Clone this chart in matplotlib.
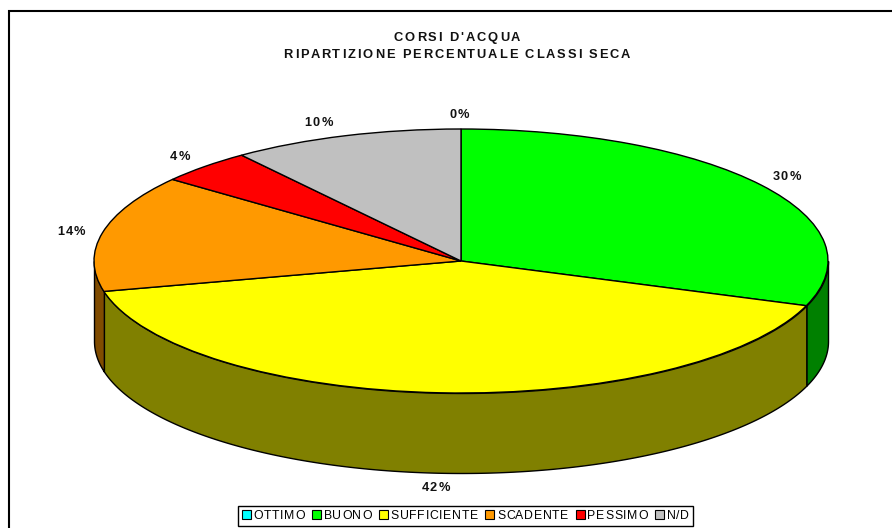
import types
import numpy as np
import matplotlib
matplotlib.use("Agg")
import matplotlib.pyplot as plt
from matplotlib.lines import Line2D
from matplotlib.transforms import Bbox

categories = ["OTTIMO", "BUONO", "SUFFICIENTE", "SCADENTE", "PESSIMO", "N/D"]
values = [0.0, 30.5, 40.8, 14.3, 4.2, 10.2]
value_labels = ["0%", "30%", "42%", "14%", "4%", "10%"]
colors = ["#00FFFF", "#00FF00", "#FFFF00", "#FF9900", "#FF0000", "#C0C0C0"]
wall_colors = ["#008080", "#008000", "#808000", "#804C00", "#800000", "#606060"]
title_lines = "CORSI D'ACQUA\nRIPARTIZIONE PERCENTUALE CLASSI SECA"

W, H = 892, 528
CX, CY, RX, RY, DEPTH = 461, 261, 367, 132, 80
plt.rcParams["font.family"] = ["Liberation Sans", "DejaVu Sans"]


def track(t, spacing, line_step=0):
    """Give a Text letter spacing (in pixels) while it stays one real text."""
    orig_layout = t._get_layout

    def layout(self, renderer):
        bbox, info, d = orig_layout(renderer)
        n = max(len(s) for s in self.get_text().split("\n"))
        return (Bbox.from_bounds(bbox.x0, bbox.y0, bbox.width + spacing * (n - 1), bbox.height),
                info, d)

    def draw(self, renderer):
        fp = self.get_fontproperties()
        gc = renderer.new_gc()
        gc.set_foreground(self.get_color())
        gc.set_antialiased(True)
        x0, y0 = self.get_transform().transform(self.get_position())
        y0 = renderer.get_canvas_width_height()[1] - y0

        def width(s):
            return renderer.get_text_width_height_descent(s, fp, False)[0] if s else 0

        for li, line in enumerate(self.get_text().split("\n")):
            total = width(line) + spacing * (len(line) - 1)
            start = x0 - total / 2 if self.get_ha() == "center" else x0
            for i, ch in enumerate(line):
                if ch != " ":
                    renderer.draw_text(gc, start + width(line[:i]) + spacing * i,
                                       y0 + li * line_step, ch, fp, 0, False)
        gc.restore()

    t._get_layout = types.MethodType(layout, t)
    t.draw = types.MethodType(draw, t)
    return t


fig = plt.figure(figsize=(W / 100, H / 100), dpi=100)
ax = fig.add_axes([0, 0, 1, 1])
wedges, _ = ax.pie(values, colors=colors, startangle=90, counterclock=False,
                   wedgeprops=dict(edgecolor="black", linewidth=1.0, zorder=3))
ax.set_aspect("auto")
ax.set_xlim(-CX / RX, (W - CX) / RX)
ax.set_ylim(-(H - CY) / RY, CY / RY)
ax.axis("off")

# side walls of the disc
depth = DEPTH / RY
edges = np.cumsum([0] + values) / sum(values) * 2 * np.pi
for a, b, wc in zip(edges[:-1], edges[1:], wall_colors):
    lo, hi = max(a, np.pi / 2), min(b, 3 * np.pi / 2)
    if hi <= lo:
        continue
    t = np.linspace(lo, hi, 200)
    ax.fill_between(np.sin(t), np.cos(t), np.cos(t) - depth, facecolor=wc,
                    edgecolor="black", linewidth=1.0, zorder=2)

# value labels: placed just outside the rim at each slice's middle angle
nudges = [(-2, 1), (0, 0), (-3, -2), (-1, 2), (-3, 1), (-17, 1)]
mids = (edges[:-1] + edges[1:]) / 2
for m, lab, (nx, ny) in zip(mids, value_labels, nudges):
    front = depth if np.cos(m) < -0.5 else 0
    lx = np.sin(m) * 398 / RX + nx / RX
    ly = np.cos(m) * 148 / RY - front - (ny + 4) / RY
    track(ax.text(lx, ly, lab, ha="center", va="baseline", fontsize=9.2,
                  fontweight="bold", color="#111111", zorder=5), 1.3)

track(fig.text(457 / W, 1 - 41 / H, title_lines, ha="center", va="baseline",
               fontsize=9.3, fontweight="bold", color="#111111"), 1.9, line_step=17)

# chart-area frame
fig.add_artist(Line2D([9 / W, 9 / W, 1], [0, 1 - 11 / H, 1 - 11 / H], color="black",
                      linewidth=1.5, solid_joinstyle="miter"))

leg = ax.legend(wedges, categories, ncol=6, loc="center", fontsize=8.8,
                bbox_to_anchor=(465.5 / W, 1 - 516 / H), bbox_transform=fig.transFigure,
                frameon=True, fancybox=False, edgecolor="black", framealpha=1,
                handlelength=0.75, handleheight=0.75, handletextpad=0.2,
                columnspacing=0.6, borderpad=0.3, borderaxespad=0)
leg.get_frame().set_linewidth(1.0)
for h in leg.get_patches():
    h.set_linewidth(0.8)
    h.set_edgecolor("black")
for tx in leg.get_texts():
    track(tx, 0.7)

fig.savefig("out.png", dpi=100)
